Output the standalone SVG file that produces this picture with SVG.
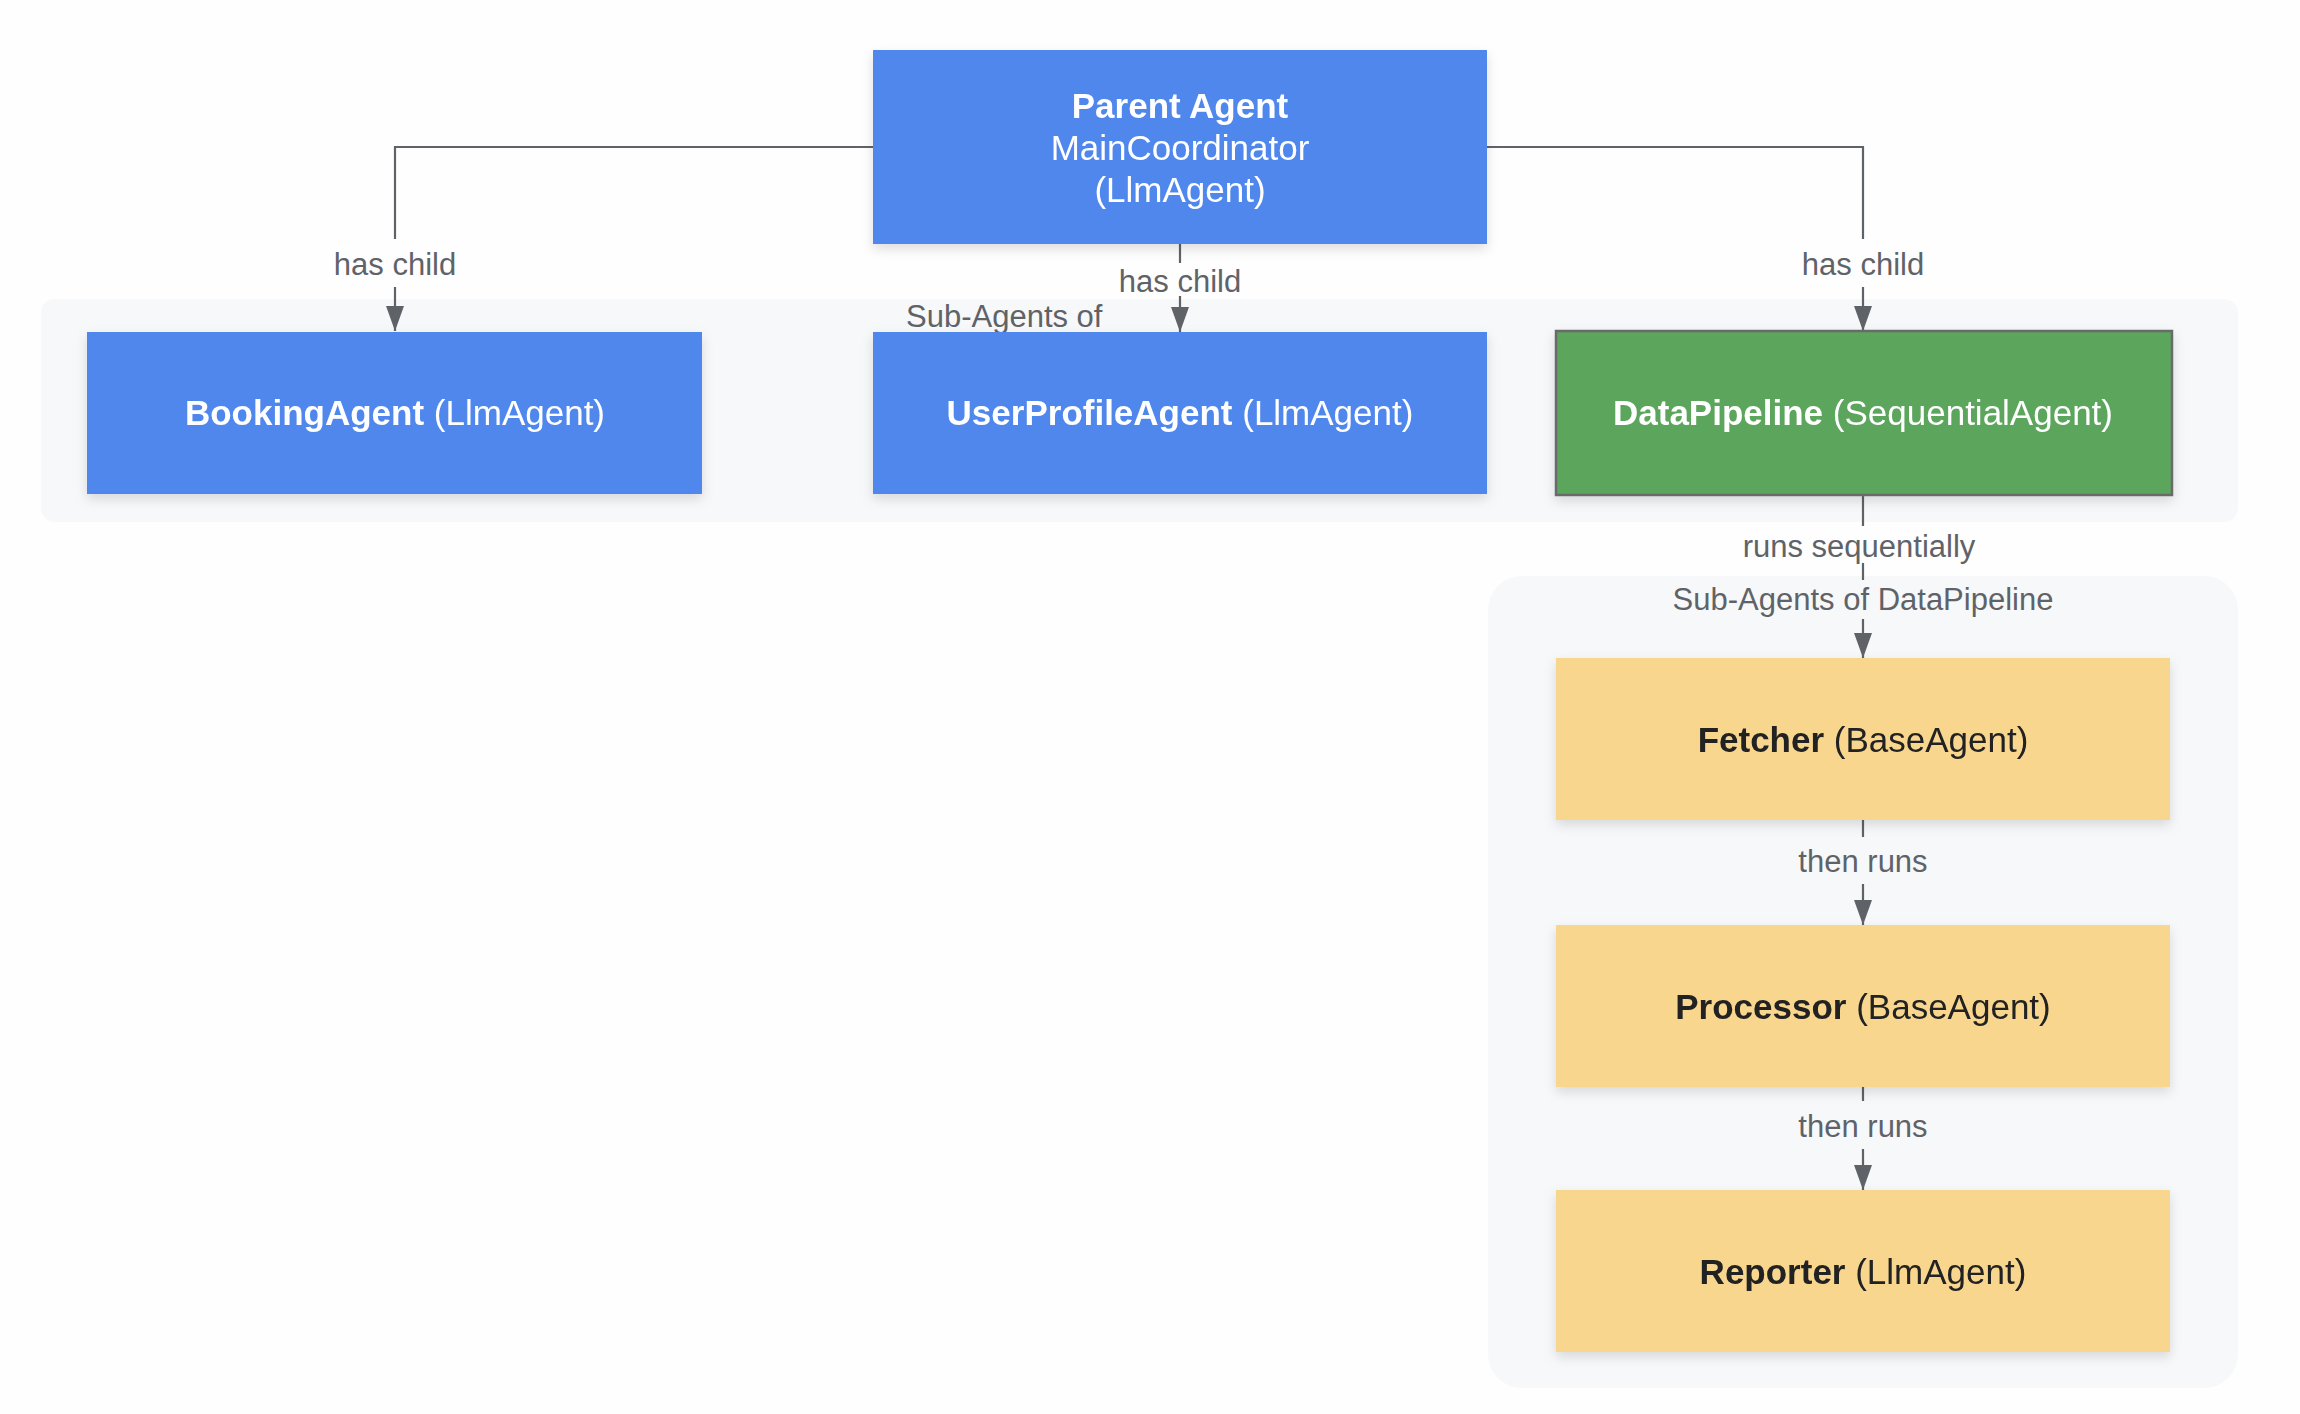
<svg xmlns="http://www.w3.org/2000/svg" width="2300" height="1414" viewBox="0 0 2300 1414">
<defs>
<style>
.node{filter:url(#sh)}
.blue{fill:#5087ec}
.green{fill:#5ba55b;stroke:#6a6a6a;stroke-width:2.5}
.yellow{fill:#f8d68e}
.panel{fill:#f7f8fa}
.wt{font-family:"Liberation Sans",Arial,sans-serif;font-size:35px;fill:#ffffff;text-anchor:middle}
.dt{font-family:"Liberation Sans",Arial,sans-serif;font-size:35px;fill:#202124;text-anchor:middle}
.b{font-weight:bold}
.lbl{font-family:"Liberation Sans",Arial,sans-serif;font-size:31px;fill:#5f6368;text-anchor:middle}
.edge{fill:none;stroke:#5f6368;stroke-width:2.2}
</style>
<filter id="sh" x="-10%" y="-20%" width="120%" height="150%">
<feDropShadow dx="0" dy="5" stdDeviation="6" flood-color="#000" flood-opacity="0.13"/>
</filter>
<marker id="arr" markerUnits="userSpaceOnUse" markerWidth="26" markerHeight="20" refX="25" refY="9" orient="auto">
<path d="M0,0 L25,9 L0,18 z" fill="#5f6368"/>
</marker>
</defs>
<rect width="2300" height="1414" fill="#fefefe"/>

<g id="clusters">
<rect id="cluster-main" class="panel" x="41" y="299" width="2197" height="223" rx="14"/>
<rect id="cluster-pipeline" class="panel" x="1488" y="576" width="750" height="812" rx="34"/>
</g>

<g id="connectors">
<path class="edge" d="M873,147 H395 V239 M395,287 V331" marker-end="url(#arr)"/>
<path class="edge" d="M1487,147 H1863 V239 M1863,287 V331" marker-end="url(#arr)"/>
<path class="edge" d="M1180,244 V263 M1180,296 V332" marker-end="url(#arr)"/>
<path class="edge" d="M1863,495 V526 M1863,563 V580 M1863,619 V658" marker-end="url(#arr)"/>
<path class="edge" d="M1863,820 V837 M1863,884 V925" marker-end="url(#arr)"/>
<path class="edge" d="M1863,1087 V1101 M1863,1149 V1190" marker-end="url(#arr)"/>
<text class="lbl" x="395" y="275">has child</text>
<text class="lbl" x="1863" y="275">has child</text>
<text class="lbl" x="1180" y="292">has child</text>
<text class="lbl" x="1859" y="557">runs sequentially</text>
<text class="lbl" x="1863" y="872">then runs</text>
<text class="lbl" x="1863" y="1137">then runs</text>
</g>

<g id="cluster-labels">
<text class="lbl" x="906" y="327" style="text-anchor:start">Sub-Agents of</text>
<text class="lbl" x="1863" y="610">Sub-Agents of DataPipeline</text>
</g>

<g id="parent-agent" class="node">
<rect class="blue" x="873" y="50" width="614" height="194"/>
<text class="wt b" x="1180" y="118">Parent Agent</text>
<text class="wt" x="1180" y="160">MainCoordinator</text>
<text class="wt" x="1180" y="202">(LlmAgent)</text>
</g>

<g id="booking-agent" class="node">
<rect class="blue" x="87" y="332" width="615" height="162"/>
<text class="wt" x="395" y="425"><tspan class="b">BookingAgent</tspan> (LlmAgent)</text>
</g>

<g id="user-profile-agent" class="node">
<rect class="blue" x="873" y="332" width="614" height="162"/>
<text class="wt" x="1180" y="425"><tspan class="b">UserProfileAgent</tspan> (LlmAgent)</text>
</g>

<g id="data-pipeline" class="node">
<rect class="green" x="1556" y="331" width="616" height="164"/>
<text class="wt" x="1863" y="425"><tspan class="b">DataPipeline</tspan> (SequentialAgent)</text>
</g>

<g id="fetcher" class="node">
<rect class="yellow" x="1556" y="658" width="614" height="162"/>
<text class="dt" x="1863" y="752"><tspan class="b">Fetcher</tspan> (BaseAgent)</text>
</g>

<g id="processor" class="node">
<rect class="yellow" x="1556" y="925" width="614" height="162"/>
<text class="dt" x="1863" y="1019"><tspan class="b">Processor</tspan> (BaseAgent)</text>
</g>

<g id="reporter" class="node">
<rect class="yellow" x="1556" y="1190" width="614" height="162"/>
<text class="dt" x="1863" y="1284"><tspan class="b">Reporter</tspan> (LlmAgent)</text>
</g>
</svg>
